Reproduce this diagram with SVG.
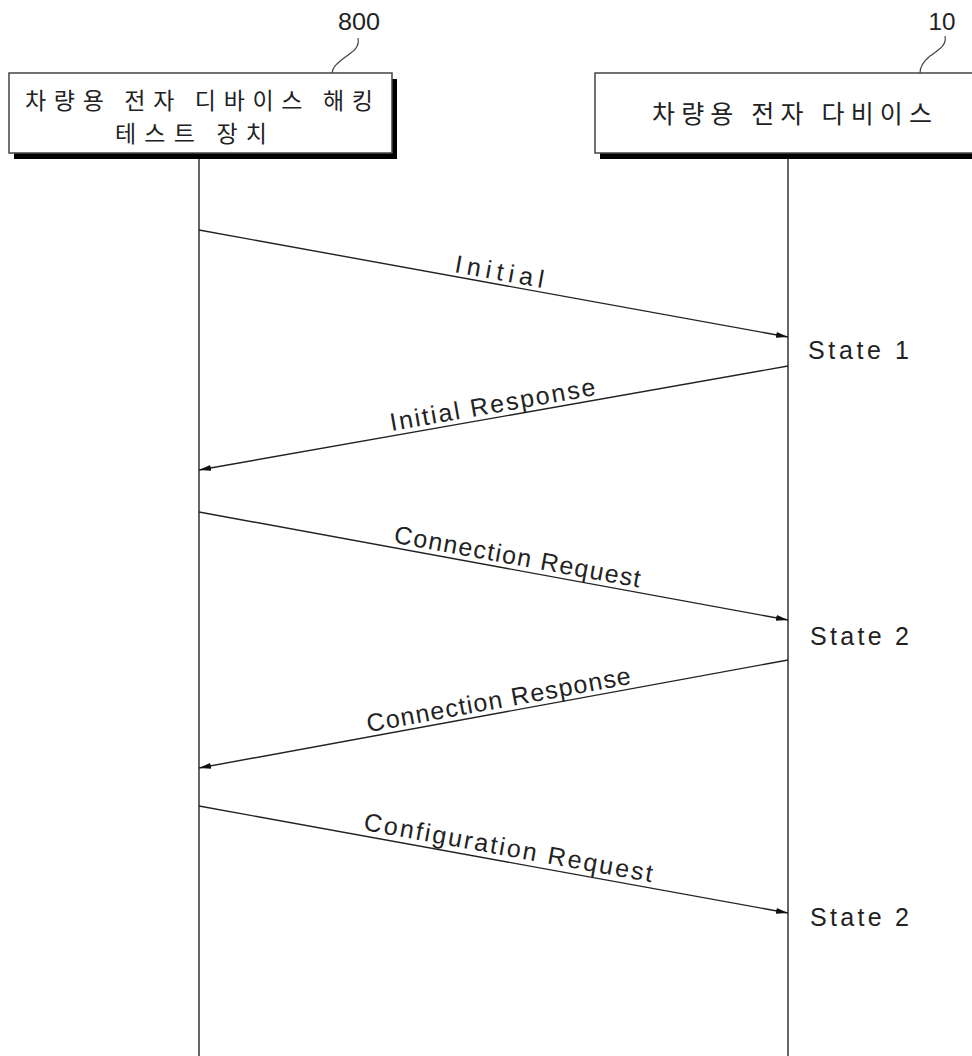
<svg xmlns="http://www.w3.org/2000/svg" width="972" height="1056" viewBox="0 0 972 1056">
<style>
.box{fill:#fff;stroke:#444;stroke-width:1.5}
.shadow{fill:#000}
.life{stroke:#333;stroke-width:1.5;fill:none}
.msg{stroke:#222;stroke-width:1.4;fill:none;marker-end:url(#ah)}
.lead{stroke:#444;stroke-width:1.2;fill:none}
.kr{font-family:"Noto Sans CJK KR","Noto Sans",sans-serif;font-size:23px;fill:#222}
.kr2{font-family:"Noto Sans CJK KR","Noto Sans",sans-serif;font-size:25px;fill:#222}
.lbl{font-family:"Liberation Sans","DejaVu Sans",sans-serif;font-size:25px;fill:#222}
.num{font-family:"Liberation Sans",sans-serif;font-size:23px;fill:#222}
</style>
<defs>
<marker id="ah" viewBox="0 0 12 6" refX="12" refY="3" markerWidth="12" markerHeight="6" markerUnits="userSpaceOnUse" orient="auto">
<path d="M0,0 L12,3 L0,6 Z" fill="#111"/>
</marker>
</defs>
<rect width="972" height="1056" fill="#fff"/>
<g id="node-800">
<rect class="shadow" x="14" y="79" width="383" height="80"/>
<rect class="box" x="9" y="73" width="383" height="80"/>
<text class="kr" x="199" y="109" text-anchor="middle" textLength="348" lengthAdjust="spacing">차량용 전자 디바이스 해킹</text>
<text class="kr" x="191" y="142" text-anchor="middle" textLength="152" lengthAdjust="spacing">테스트 장치</text>
<text class="num" x="359" y="30" text-anchor="middle" textLength="42" lengthAdjust="spacingAndGlyphs">800</text>
<path class="lead" d="M358,38 C360,48 352,52 344,58 C338,63 333,66 332,73"/>
</g>
<g id="node-10">
<rect class="shadow" x="600" y="79" width="380" height="80"/>
<rect class="box" x="595" y="73" width="385" height="80"/>
<text class="kr2" x="792" y="123" text-anchor="middle" textLength="280" lengthAdjust="spacing">차량용 전자 다비이스</text>
<text class="num" x="942" y="30" text-anchor="middle" textLength="27" lengthAdjust="spacingAndGlyphs">10</text>
<path class="lead" d="M945,36 C947,46 938,50 930,56 C924,61 920,66 920,73"/>
</g>
<g id="lifelines">
<line class="life" x1="199" y1="159" x2="199" y2="1056"/>
<line class="life" x1="788" y1="159" x2="788" y2="1056"/>
</g>
<g id="connectors">
<line class="msg" x1="199" y1="230" x2="788" y2="337"/>
<line class="msg" x1="788" y1="366" x2="199" y2="470"/>
<line class="msg" x1="199" y1="512" x2="788" y2="620"/>
<line class="msg" x1="788" y1="660" x2="199" y2="768"/>
<line class="msg" x1="199" y1="806" x2="788" y2="913"/>
</g>
<g id="labels">
<text class="lbl" x="498" y="280" text-anchor="middle" textLength="90" lengthAdjust="spacing" transform="rotate(10.3 498 280)">Initial</text>
<text class="lbl" x="494" y="413" text-anchor="middle" textLength="208" lengthAdjust="spacing" transform="rotate(-10 494 413)">Initial Response</text>
<text class="lbl" x="516" y="565" text-anchor="middle" textLength="250" lengthAdjust="spacing" transform="rotate(10.4 516 565)">Connection Request</text>
<text class="lbl" x="500" y="708" text-anchor="middle" textLength="268" lengthAdjust="spacing" transform="rotate(-10.4 500 708)">Connection Response</text>
<text class="lbl" x="507" y="856" text-anchor="middle" textLength="293" lengthAdjust="spacing" transform="rotate(10.3 507 856)">Configuration Request</text>
</g>
<g id="states">
<text class="lbl" x="808" y="359" textLength="101" lengthAdjust="spacing">State 1</text>
<text class="lbl" x="810" y="645" textLength="99" lengthAdjust="spacing">State 2</text>
<text class="lbl" x="810" y="926" textLength="99" lengthAdjust="spacing">State 2</text>
</g>
</svg>
